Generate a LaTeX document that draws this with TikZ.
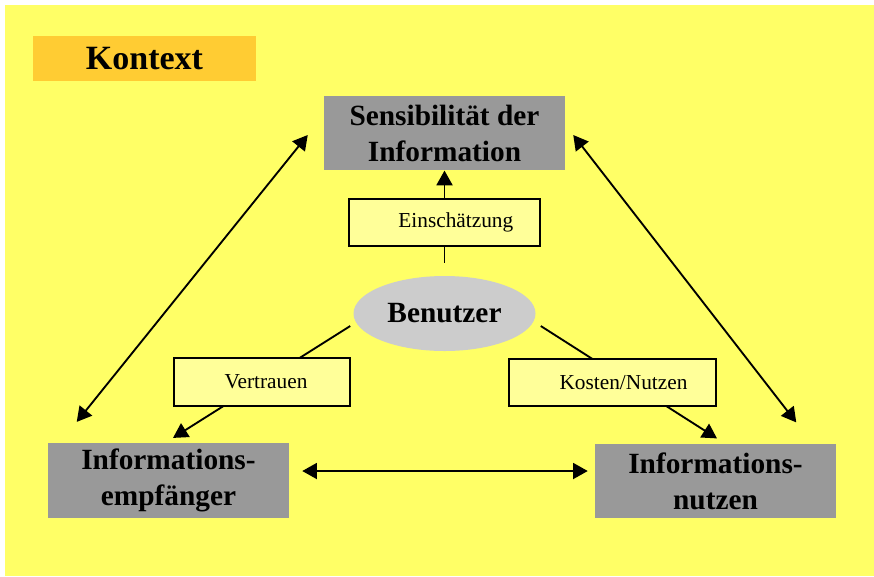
\documentclass[tikz,border=0pt]{standalone}
\usepackage{fontspec}
\setmainfont{Liberation Serif}
\usetikzlibrary{arrows.meta,calc,shapes.geometric}
\definecolor{bgyellow}{HTML}{FFFF66}
\definecolor{ctxorange}{HTML}{FFCC33}
\definecolor{boxgray}{HTML}{999999}
\definecolor{tagyellow}{HTML}{FFFF99}
\definecolor{ellgray}{HTML}{CCCCCC}

\begin{document}
\begin{tikzpicture}[x=0.75pt,y=-0.75pt,
  topic/.style={fill=boxgray, minimum width=180.75pt, minimum height=56pt,
    inner sep=0pt, align=center, font=\fontsize{22}{27}\selectfont\bfseries},
  tag/.style={draw=black, line width=1.5pt, fill=tagyellow, inner sep=0pt,
    font=\fontsize{16}{19}\selectfont},
  link/.style={line width=1.4pt},
  tip/.tip={Triangle[length=11pt,width=12pt]},
  one/.style={link, -tip},
  dbl/.style={link, tip-tip},
]
\useasboundingbox (0,0) rectangle (874,576);
\fill[white] (0,0) rectangle (874,576);
\fill[bgyellow] (5,5) rectangle (874,576);

% heading
\node[fill=ctxorange, minimum width=167.25pt, minimum height=33.75pt, inner sep=0pt,
  font=\fontsize{25.5}{30}\selectfont\bfseries] (ctx) at (144.5,58.5) {Kontext};

% the three corners
\node[topic] (sens) at (444.5,133) {Sensibilität der\\Information};
\node[topic] (empf) at (168.5,480.5) {Informations-\\empfänger};
\node[topic] (nutz) at (715.5,481) {Informations-\\nutzen};

% centre
\node[ellipse, fill=ellgray, minimum width=136.5pt, minimum height=56.25pt, inner sep=0pt,
  font=\fontsize{22}{27}\selectfont\bfseries] (ben) at (444.5,313.5) {Benutzer};

% lines from the user down to the lower corners (tags are laid over them)
\draw[one] ($(ben.west)+(-3,12.5)$) -- ($(empf.north)+(4.5,-5)$);
\draw[one] ($(ben.east)+(5,12.5)$) -- ($(nutz.north)+(1.5,-5)$);

% triangle edges
\draw[dbl] ($(sens.west)+(-16,2)$) -- ($(empf.north west)+(29,-21)$);
\draw[dbl] ($(sens.east)+(8,2)$) -- ($(nutz.north east)+(-40,-21)$);
\draw[dbl] ($(empf.east)+(13,-9.5)$) -- ($(nutz.west)+(-7,-10)$);

% tags
\node[tag, minimum width=143.25pt, minimum height=35.25pt] (ein) at (444.5,222.5)
  {\hspace*{17pt}Einschätzung};
\node[tag, minimum width=132pt, minimum height=36pt] (vert) at (262,382)
  {\hspace*{6pt}Vertrauen};
\node[tag, minimum width=155.25pt, minimum height=35.25pt] (kost) at (612.5,382.5)
  {\hspace*{16.5pt}Kosten/Nutzen};

\draw[link, shorten <=9.75pt] (ben.north) -- (ein.south);
\draw[one] (ein.north) -- (sens.south);
\end{tikzpicture}
\end{document}
